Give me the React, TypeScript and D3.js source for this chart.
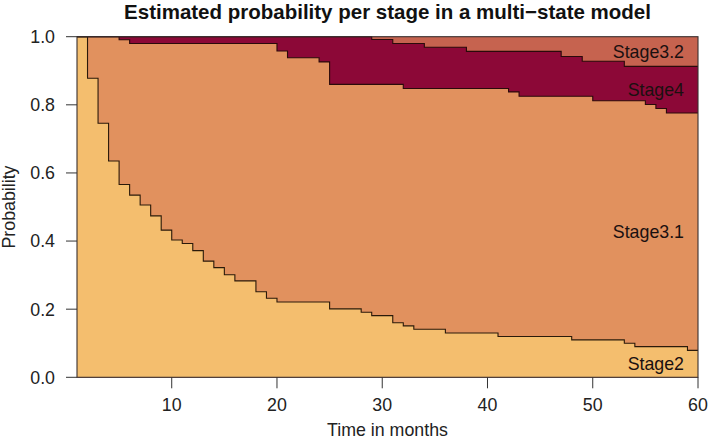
import React from "react";
import * as d3 from "d3";

// Cumulative probability boundaries (step functions, value holds from time until next time)
const stage2Times = [1, 2, 3, 4, 5, 6, 7, 8, 9, 10, 11, 12, 13, 14, 15, 16, 18, 19, 20, 25, 28, 29, 31, 32, 33, 36, 41, 48, 53, 54, 59];
const stage2Cum = [1.0, 0.878, 0.746, 0.635, 0.566, 0.535, 0.506, 0.474, 0.432, 0.403, 0.393, 0.372, 0.341, 0.322, 0.301, 0.283, 0.251, 0.232, 0.221, 0.201, 0.191, 0.181, 0.16, 0.151, 0.141, 0.13, 0.12, 0.11, 0.1, 0.09, 0.079];

const stage31Times = [1, 5, 6, 20, 21, 24, 25, 32, 42, 43, 50, 55, 56, 57];
const stage31Cum = [1.0, 0.991, 0.98, 0.958, 0.938, 0.926, 0.86, 0.848, 0.838, 0.825, 0.812, 0.801, 0.789, 0.776];

const stage4Times = [1, 29, 31, 34, 38, 47, 49, 53];
const stage4Cum = [1.0, 0.992, 0.98, 0.969, 0.957, 0.942, 0.928, 0.913];

const stageNames = ["Stage2", "Stage3.1", "Stage4", "Stage3.2"];
const stageColors = ["#F4BE6E", "#E1915E", "#8C0837", "#C6634F"];

const xTicks = [10, 20, 30, 40, 50, 60];
const yTicks = [0, 0.2, 0.4, 0.6, 0.8, 1.0];

const titleText = "Estimated probability per stage in a multi\u2212state model";
const xLabel = "Time in months";
const yLabel = "Probability";

const W = 709;
const H = 440;
const M = { left: 77, right: 11, top: 36.7, bottom: 62.7 };
const FONT = "'Liberation Sans', Arial, Helvetica, sans-serif";

export default function App() {
  const x = d3.scaleLinear().domain([1, 60]).range([M.left, W - M.right]);
  const y = d3.scaleLinear().domain([0, 1]).range([H - M.bottom, M.top]);

  const mk = (times: number[], vals: number[]) => {
    const pts = times.map((t, i) => [t, vals[i]] as [number, number]);
    pts.push([60, vals[vals.length - 1]]);
    return pts;
  };
  const b2 = mk(stage2Times, stage2Cum);
  const b31 = mk(stage31Times, stage31Cum);
  const b4 = mk(stage4Times, stage4Cum);

  const area = d3
    .area<[number, number]>()
    .x((d) => x(d[0]))
    .y0(y(0))
    .y1((d) => y(d[1]))
    .curve(d3.curveStepAfter);
  const line = d3
    .line<[number, number]>()
    .x((d) => x(d[0]))
    .y((d) => y(d[1]))
    .curve(d3.curveStepAfter);

  const last = (a: number[]) => a[a.length - 1];
  const bounds = [0, last(stage2Cum), last(stage31Cum), last(stage4Cum), 1];
  const labelMids = stageNames.map((_, i) => (bounds[i] + bounds[i + 1]) / 2);

  const x0 = x(1);
  const x1 = x(60);
  const yb = y(0);
  const yt = y(1);
  const fs = 17.8;

  return (
    <svg
      width={W}
      height={H}
      style={{ position: "absolute", left: 0, top: 0, background: "#fff" }}
      fontFamily={FONT}
    >
      <rect x={x0} y={yt} width={x1 - x0} height={yb - yt} fill={stageColors[3]} />
      <path d={area(b4) || ""} fill={stageColors[2]} />
      <path d={area(b31) || ""} fill={stageColors[1]} />
      <path d={area(b2) || ""} fill={stageColors[0]} />
      <path d={line(b4) || ""} fill="none" stroke="#2a0a0a" strokeWidth={1.1} />
      <path d={line(b31) || ""} fill="none" stroke="#2a0a0a" strokeWidth={1.1} />
      <path d={line(b2) || ""} fill="none" stroke="#2a1a0a" strokeWidth={1.1} />
      <rect x={x0} y={yt} width={x1 - x0} height={yb - yt} fill="none" stroke="#3a3030" strokeWidth={1.1} />

      {stageNames.map((n, i) => (
        <text
          key={n}
          x={x1 - 14}
          y={y(labelMids[i]) + 0.36 * fs}
          textAnchor="end"
          fontSize={fs}
          fill="#1a1010"
        >
          {n}
        </text>
      ))}

      {xTicks.map((t) => (
        <g key={"x" + t}>
          <line x1={x(t)} x2={x(t)} y1={yb} y2={yb + 11} stroke="#333" strokeWidth={1} />
          <text x={x(t)} y={yb + 33.5} textAnchor="middle" fontSize={fs} fill="#222">
            {t}
          </text>
        </g>
      ))}
      {yTicks.map((t) => (
        <g key={"y" + t}>
          <line x1={x0 - 11} x2={x0} y1={y(t)} y2={y(t)} stroke="#333" strokeWidth={1} />
          <text x={x0 - 22} y={y(t) + 0.36 * fs} textAnchor="end" fontSize={fs} fill="#222">
            {d3.format(".1f")(t)}
          </text>
        </g>
      ))}

      <text x={(x0 + x1) / 2} y={H - 4.5} textAnchor="middle" fontSize={fs} fill="#222">
        {xLabel}
      </text>
      <text
        transform={`translate(${15},${(yb + yt) / 2}) rotate(-90)`}
        textAnchor="middle"
        fontSize={fs}
        fill="#222"
      >
        {yLabel}
      </text>
      <text
        x={(x0 + x1) / 2}
        y={19}
        textAnchor="middle"
        fontSize={20.5}
        fontWeight="bold"
        fill="#111"
      >
        {titleText}
      </text>
    </svg>
  );
}
